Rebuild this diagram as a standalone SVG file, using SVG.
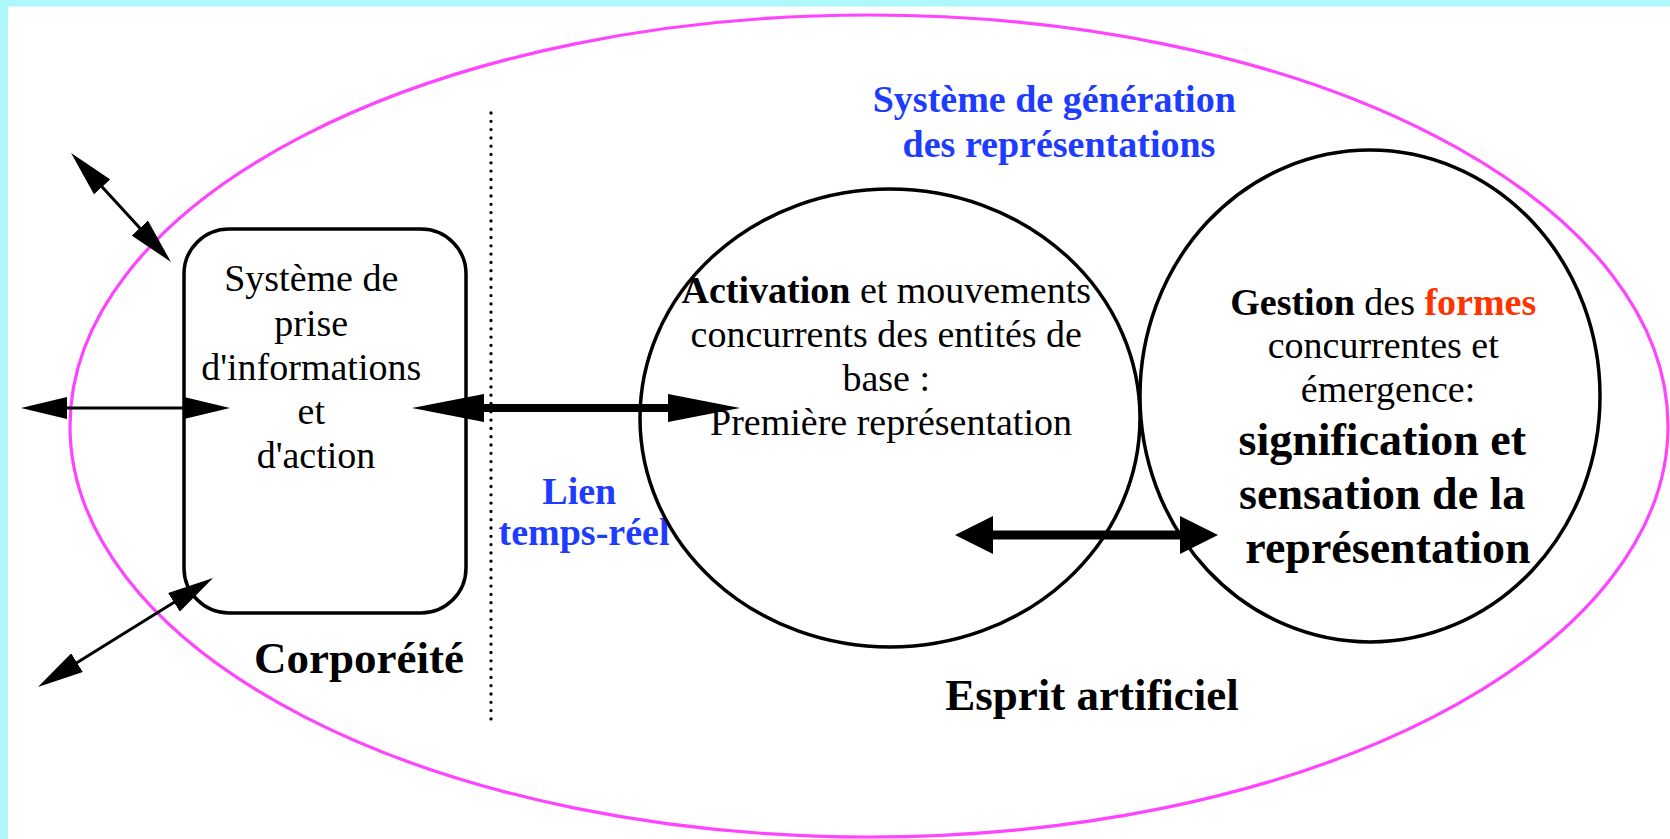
<svg xmlns="http://www.w3.org/2000/svg" width="1670" height="839" viewBox="0 0 1670 839">
  <style>
    .frame { fill: #aef8fc; }
    .halo { fill: none; stroke: #ff44ff; stroke-width: 3.2; }
    .shape { fill: none; stroke: #000; stroke-width: 3.5; }
    .sep { fill: none; stroke: #000; stroke-width: 3.3; stroke-linecap: round; stroke-dasharray: 0 8.3; }
    .t { font-family: "Liberation Serif", "Times New Roman", serif; font-size: 38px; fill: #000; text-anchor: middle; }
    .b { font-weight: bold; }
    .blue { fill: #1e3cff; font-weight: bold; }
    .red { fill: #ff3300; font-weight: bold; }
    .big { font-size: 46px; font-weight: bold; }
    .lbl { font-size: 45px; font-weight: bold; }
    .thin { fill: none; stroke: #000; stroke-width: 3; marker-start: url(#headThin); marker-end: url(#headThin); }
    .link { fill: none; stroke: #000; stroke-width: 8; marker-start: url(#headLong); marker-end: url(#headLong); }
    .mutual { fill: none; stroke: #000; stroke-width: 9; marker-start: url(#headWide); marker-end: url(#headWide); }
  </style>
  <defs>
    <marker id="headThin" markerUnits="userSpaceOnUse" viewBox="0 0 46 22" markerWidth="46" markerHeight="22" refX="23" refY="11" orient="auto-start-reverse">
      <path d="M0,0 L46,11 L0,22 z" fill="#000"/>
    </marker>
    <marker id="headLong" markerUnits="userSpaceOnUse" viewBox="0 0 72 28" markerWidth="72" markerHeight="28" refX="36" refY="14" orient="auto-start-reverse">
      <path d="M0,0 L72,14 L0,28 z" fill="#000"/>
    </marker>
    <marker id="headWide" markerUnits="userSpaceOnUse" viewBox="0 0 38 38" markerWidth="38" markerHeight="38" refX="19" refY="19" orient="auto-start-reverse">
      <path d="M0,0 L38,19 L0,38 z" fill="#000"/>
    </marker>
  </defs>

  <!-- page -->
  <rect x="0" y="0" width="1670" height="839" fill="#fff"/>
  <rect class="frame" x="0" y="0" width="1670" height="6.5"/>
  <rect class="frame" x="0" y="0" width="8" height="839"/>

  <!-- overall system boundary -->
  <ellipse id="boundary" class="halo" cx="869" cy="426" rx="799" ry="411"/>

  <!-- body / corporeality -->
  <g id="corporeite">
    <rect class="shape" x="184" y="229" width="282" height="384" rx="45" ry="45"/>
    <text class="t">
      <tspan x="316" y="291">Système de</tspan>
      <tspan x="316" y="336">prise</tspan>
      <tspan x="316" y="380">d'informations</tspan>
      <tspan x="316" y="424">et</tspan>
      <tspan x="316" y="468">d'action</tspan>
    </text>
    <text class="t lbl" x="359" y="673">Corporéité</text>
  </g>

  <!-- separator between body and mind -->
  <g id="separateur">
    <line class="sep" x1="491" y1="113" x2="491" y2="720"/>
    <text class="t blue">
      <tspan x="584" y="504">Lien</tspan>
      <tspan x="584" y="545">temps-réel</tspan>
    </text>
  </g>

  <!-- representation generator -->
  <g id="generation">
    <text class="t blue">
      <tspan x="1059" y="112">Système de génération</tspan>
      <tspan x="1059" y="157">des représentations</tspan>
    </text>
  </g>

  <g id="activation">
    <ellipse class="shape" cx="890" cy="418" rx="250" ry="229"/>
    <text class="t">
      <tspan x="891" y="303"><tspan class="b">Activation</tspan> et mouvements</tspan>
      <tspan x="891" y="347">concurrents des entités de</tspan>
      <tspan x="891" y="391">base :</tspan>
      <tspan x="891" y="435">Première représentation</tspan>
    </text>
  </g>

  <g id="formes">
    <ellipse class="shape" cx="1370" cy="396" rx="230" ry="246"/>
    <text class="t">
      <tspan x="1388" y="315"><tspan class="b">Gestion</tspan> des <tspan class="red">formes</tspan></tspan>
      <tspan x="1388" y="358">concurrentes et</tspan>
      <tspan x="1388" y="402">émergence:</tspan>
    </text>
    <text class="t big">
      <tspan x="1388" y="455">signification et</tspan>
      <tspan x="1388" y="509">sensation de la</tspan>
      <tspan x="1388" y="563">représentation</tspan>
    </text>
  </g>

  <g id="esprit">
    <text class="t lbl" x="1092" y="710">Esprit artificiel</text>
  </g>

  <!-- connectors -->
  <g id="connecteurs">
    <line class="thin" x1="86.6" y1="170" x2="155.4" y2="245"/>
    <line class="thin" x1="44" y1="408" x2="207" y2="408"/>
    <line class="thin" x1="57.5" y1="674.8" x2="193.5" y2="590.2"/>
    <line class="link" x1="448" y1="408" x2="704" y2="408"/>
    <line class="mutual" x1="974" y1="535" x2="1199" y2="535"/>
  </g>
</svg>
